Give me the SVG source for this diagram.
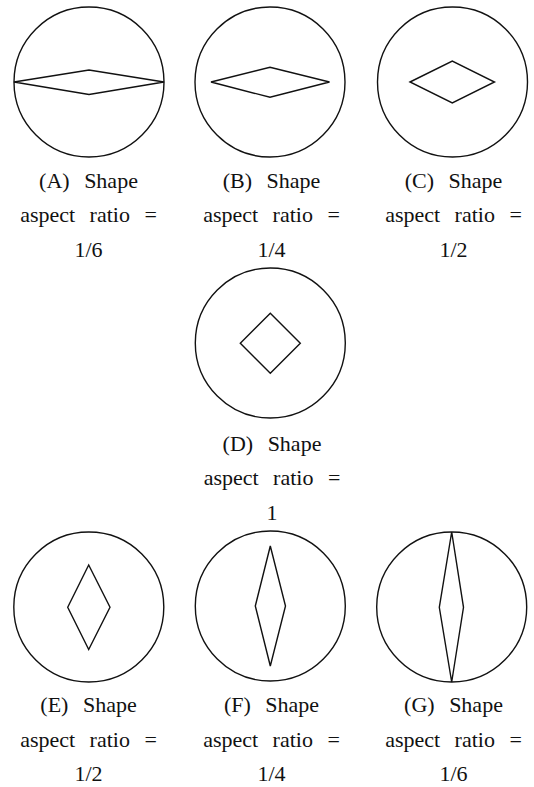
<svg xmlns="http://www.w3.org/2000/svg" width="534" height="787" viewBox="0 0 534 787">
<style>
.c{fill:none;stroke:#111;stroke-width:1.4}
.d{fill:none;stroke:#111;stroke-width:1.4;stroke-linejoin:miter}
.t{font-family:'Liberation Serif','Times New Roman',Times,serif;font-size:22px;fill:#111;text-anchor:middle;word-spacing:9px}
</style>
<rect width="534" height="787" fill="#fff"/>
<g id="nodeA">
<circle class="c" cx="89" cy="82" r="75"/>
<polygon class="d" points="14,82 89,70 164,82 89,94.5"/>
<text class="t" x="88.5" y="187.5">(A) Shape</text>
<text class="t" x="88.5" y="222">aspect ratio =</text>
<text class="t" x="88.5" y="256.5">1/6</text>
</g>
<g id="nodeB">
<circle class="c" cx="270" cy="82" r="75"/>
<polygon class="d" points="211,82 270,67.3 329.5,82 270,97.3"/>
<text class="t" x="271.5" y="187.5">(B) Shape</text>
<text class="t" x="271.5" y="222">aspect ratio =</text>
<text class="t" x="271.5" y="256.5">1/4</text>
</g>
<g id="nodeC">
<circle class="c" cx="452.5" cy="82" r="75"/>
<polygon class="d" points="410,82 452.3,61 494.5,82 452.3,103"/>
<text class="t" x="453.5" y="187.5">(C) Shape</text>
<text class="t" x="453.5" y="222">aspect ratio =</text>
<text class="t" x="453.5" y="256.5">1/2</text>
</g>
<g id="nodeD">
<circle class="c" cx="270.3" cy="343" r="75"/>
<polygon class="d" points="240.3,343.3 270.3,313.3 300.3,343.3 270.3,373.3"/>
<text class="t" x="272" y="451">(D) Shape</text>
<text class="t" x="272" y="485">aspect ratio =</text>
<text class="t" x="272" y="519.5">1</text>
</g>
<g id="nodeE">
<circle class="c" cx="88.8" cy="607" r="75"/>
<polygon class="d" points="67.7,607.3 88.7,565 110,607.3 88.7,649.5"/>
<text class="t" x="88.5" y="711.5">(E) Shape</text>
<text class="t" x="88.5" y="746.5">aspect ratio =</text>
<text class="t" x="88.5" y="781">1/2</text>
</g>
<g id="nodeF">
<circle class="c" cx="270.3" cy="606" r="75"/>
<polygon class="d" points="255.3,606 270.3,546 285.5,606 270.3,666"/>
<text class="t" x="271.5" y="711.5">(F) Shape</text>
<text class="t" x="271.5" y="746.5">aspect ratio =</text>
<text class="t" x="271.5" y="781">1/4</text>
</g>
<g id="nodeG">
<circle class="c" cx="451.7" cy="607" r="75"/>
<polygon class="d" points="439.3,607.3 451.7,532 463.5,607.3 451.7,682"/>
<text class="t" x="453.5" y="711.5">(G) Shape</text>
<text class="t" x="453.5" y="746.5">aspect ratio =</text>
<text class="t" x="453.5" y="781">1/6</text>
</g>
<g id="connectors"/>
</svg>
